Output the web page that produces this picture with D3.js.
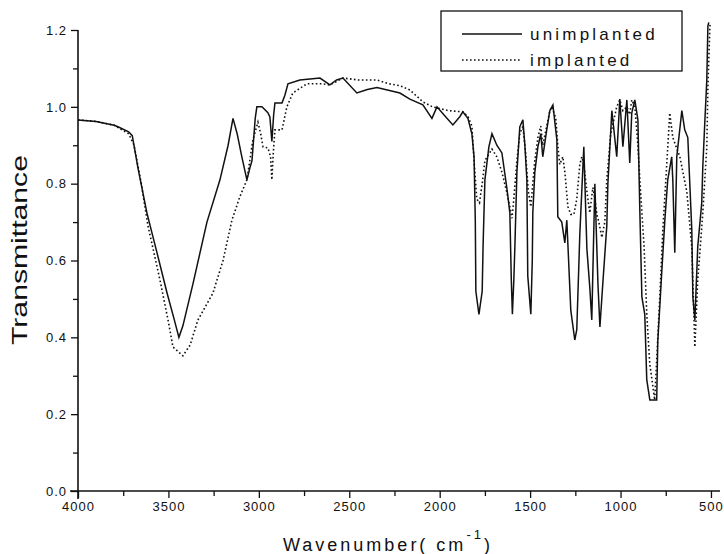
<!DOCTYPE html>
<html>
<head>
<meta charset="utf-8">
<script src="https://cdn.jsdelivr.net/npm/d3@7"></script>
<style>
  body { margin: 0; background: #fff; }
  svg text { font-family: "Liberation Sans", Arial, sans-serif; fill: #111; }
</style>
</head>
<body>
<svg id="chart" width="724" height="554"></svg>
<script>
// [wavenumber, transmittance]
var unimplanted = [
  [4000,0.966],[3900,0.962],[3800,0.952],[3779,0.948],[3720,0.935],[3700,0.925],[3668,0.84],[3619,0.724],
  [3563,0.62],[3508,0.516],[3470,0.45],[3442,0.40],[3420,0.43],[3364,0.54],[3287,0.70],[3215,0.81],
  [3170,0.90],[3143,0.97],[3120,0.93],[3094,0.87],[3066,0.81],[3050,0.84],[3038,0.86],[3020,0.97],
  [3011,1.0],[2983,1.0],[2950,0.985],[2939,0.974],[2928,0.91],[2918,0.98],[2911,1.01],[2872,1.01],
  [2856,1.03],[2839,1.06],[2773,1.07],[2662,1.075],[2607,1.057],[2570,1.07],[2535,1.075],[2458,1.036],
  [2400,1.045],[2347,1.05],[2220,1.036],[2165,1.02],[2093,1.005],[2043,0.97],[2015,1.0],[1960,0.97],
  [1927,0.953],[1888,0.975],[1872,0.987],[1844,0.97],[1822,0.93],[1810,0.87],[1803,0.7],[1800,0.52],
  [1783,0.46],[1765,0.52],[1760,0.64],[1750,0.81],[1728,0.896],[1711,0.93],[1684,0.90],[1656,0.88],
  [1629,0.79],[1612,0.724],[1604,0.55],[1598,0.46],[1590,0.55],[1584,0.64],[1573,0.83],[1557,0.948],
  [1540,0.966],[1529,0.9],[1518,0.81],[1513,0.56],[1496,0.46],[1488,0.6],[1485,0.724],[1474,0.83],
  [1457,0.896],[1441,0.93],[1430,0.87],[1408,0.94],[1391,0.99],[1374,1.005],[1352,0.914],[1347,0.714],
  [1325,0.70],[1308,0.646],[1297,0.705],[1275,0.47],[1253,0.393],[1242,0.42],[1225,0.67],[1203,0.896],
  [1186,0.63],[1170,0.53],[1159,0.445],[1142,0.80],[1125,0.54],[1114,0.427],[1098,0.54],[1076,0.69],
  [1070,0.80],[1048,0.99],[1021,0.87],[1004,1.02],[987,0.896],[965,1.018],[949,0.854],[938,0.984],
  [921,1.018],[904,0.966],[893,0.724],[882,0.505],[866,0.46],[855,0.29],[838,0.237],[800,0.237],
  [794,0.39],[772,0.57],[755,0.705],[739,0.81],[717,0.87],[711,0.81],[700,0.62],[689,0.87],
  [661,0.99],[645,0.94],[628,0.92],[606,0.68],[600,0.505],[589,0.445],[573,0.636],[551,0.75],
  [545,0.845],[534,0.96],[523,1.07],[517,1.21],[512,1.22]
];

var implanted = [
  [4000,0.966],[3900,0.962],[3800,0.952],[3720,0.93],[3690,0.90],[3650,0.80],[3613,0.69],[3580,0.62],
  [3547,0.55],[3500,0.44],[3475,0.375],[3420,0.352],[3380,0.38],[3337,0.445],[3254,0.515],[3198,0.60],
  [3149,0.705],[3105,0.766],[3066,0.81],[3033,0.914],[3005,0.96],[2990,0.93],[2977,0.896],[2950,0.893],
  [2935,0.87],[2928,0.81],[2920,0.88],[2911,0.94],[2872,0.94],[2845,1.0],[2812,1.036],[2734,1.06],
  [2650,1.06],[2607,1.057],[2535,1.075],[2450,1.07],[2347,1.07],[2280,1.06],[2220,1.055],[2165,1.044],
  [2093,1.013],[2040,1.0],[1950,0.99],[1872,0.987],[1844,0.975],[1822,0.95],[1810,0.86],[1795,0.76],
  [1780,0.75],[1765,0.8],[1750,0.86],[1711,0.89],[1684,0.87],[1656,0.83],[1630,0.78],[1612,0.74],
  [1600,0.71],[1590,0.76],[1573,0.86],[1557,0.93],[1540,0.95],[1525,0.88],[1510,0.78],[1496,0.74],
  [1485,0.8],[1474,0.86],[1457,0.92],[1441,0.95],[1430,0.9],[1408,0.95],[1391,0.99],[1380,1.0],
  [1358,0.97],[1347,0.9],[1336,0.85],[1319,0.87],[1308,0.83],[1291,0.74],[1275,0.72],[1258,0.72],
  [1242,0.76],[1225,0.85],[1214,0.87],[1203,0.85],[1186,0.78],[1170,0.724],[1153,0.79],[1142,0.76],
  [1131,0.72],[1120,0.7],[1103,0.66],[1087,0.7],[1076,0.81],[1054,0.93],[1021,1.0],[1004,1.018],
  [987,0.99],[965,1.0],[949,0.98],[938,1.018],[921,1.0],[904,0.9],[893,0.81],[870,0.636],
  [855,0.46],[838,0.33],[811,0.237],[783,0.505],[766,0.68],[744,0.854],[728,0.984],[711,0.92],
  [672,0.87],[634,0.78],[606,0.636],[589,0.375],[573,0.55],[545,0.724],[523,0.896],[517,1.05],
  [506,1.21],[502,1.22]
];

var xTicks = [4000, 3500, 3000, 2500, 2000, 1500, 1000, 500];
var xMinor = [3750, 3250, 2750, 2250, 1750, 1250, 750];
var yTicks = [0.0, 0.2, 0.4, 0.6, 0.8, 1.0, 1.2];
var yMinor = [0.1, 0.3, 0.5, 0.7, 0.9, 1.1];

var svg = d3.select("#chart");

var x = d3.scaleLinear().domain([4000, 450]).range([78, 720]);
var y = d3.scaleLinear().domain([0, 1.2]).range([491, 30]);

var line = d3.line().x(function(d) { return x(d[0]); }).y(function(d) { return y(d[1]); });

// axes
var xAxis = svg.append("g").attr("transform", "translate(0," + y(0) + ")");
xAxis.call(d3.axisBottom(x).tickValues(xTicks).tickSize(7).tickPadding(4).tickFormat(d3.format("d")));
xAxis.append("g").call(d3.axisBottom(x).tickValues(xMinor).tickSize(5).tickFormat(""));
xAxis.selectAll(".domain").remove();
xAxis.append("line").attr("x1", 70).attr("x2", 720).attr("stroke", "#111").attr("stroke-width", 1.6);

var yAxis = svg.append("g").attr("transform", "translate(" + x(4000) + ",0)");
yAxis.call(d3.axisLeft(y).tickValues(yTicks).tickSize(7).tickPadding(4).tickFormat(d3.format(".1f")));
yAxis.append("g").call(d3.axisLeft(y).tickValues(yMinor).tickSize(5).tickFormat(""));
yAxis.selectAll(".domain").remove();
yAxis.append("line").attr("y1", y(1.2)).attr("y2", y(0) + 8).attr("stroke", "#111").attr("stroke-width", 1.6);

svg.selectAll(".tick line").attr("stroke", "#111").attr("stroke-width", 1.3);
svg.selectAll(".tick text").style("font-size", "13px").style("letter-spacing", "1px").attr("fill", "#111");

// spectra
svg.append("path").datum(implanted).attr("d", line)
  .attr("fill", "none").attr("stroke", "#111").attr("stroke-width", 1.6).attr("stroke-dasharray", "1.6,2.4");
svg.append("path").datum(unimplanted).attr("d", line)
  .attr("fill", "none").attr("stroke", "#111").attr("stroke-width", 1.5).attr("stroke-linejoin", "miter");

// legend
var lg = svg.append("g");
lg.append("rect").attr("x", 441).attr("y", 11).attr("width", 241).attr("height", 60)
  .attr("fill", "#fff").attr("stroke", "#111").attr("stroke-width", 1.3);
lg.append("line").attr("x1", 462).attr("x2", 522).attr("y1", 34).attr("y2", 34)
  .attr("stroke", "#111").attr("stroke-width", 1.6);
lg.append("line").attr("x1", 462).attr("x2", 522).attr("y1", 60).attr("y2", 60)
  .attr("stroke", "#111").attr("stroke-width", 1.6).attr("stroke-dasharray", "1.6,2.4");
lg.append("text").attr("x", 530).attr("y", 40).text("unimplanted")
  .style("font-size", "17px").style("letter-spacing", "3.2px");
lg.append("text").attr("x", 530).attr("y", 66).text("implanted")
  .style("font-size", "17px").style("letter-spacing", "3.2px");

// axis titles
svg.append("text").attr("transform", "translate(27,250) rotate(-90)").attr("text-anchor", "middle")
  .attr("textLength", 190).attr("lengthAdjust", "spacingAndGlyphs")
  .style("font-size", "22px").text("Transmittance");

var xt = svg.append("text").attr("x", 283).attr("y", 551).style("font-size", "18px").style("letter-spacing", "3px");
xt.append("tspan").text("Wavenumber(  cm");
xt.append("tspan").attr("dy", -12).style("font-size", "13px").text("-1");
xt.append("tspan").attr("dy", 12).text(")");
</script>
</body>
</html>
